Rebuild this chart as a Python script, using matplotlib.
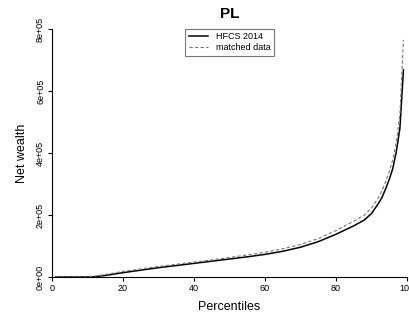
import numpy as np
import matplotlib.pyplot as plt

# percentiles and net wealth
pct = [1, 5, 10, 12, 15, 20, 25, 30, 35, 40, 45, 50, 55, 60, 65, 70, 75,
       80, 85, 88, 90, 92, 93, 94, 95, 96, 97, 98, 99]
hfcs = [0, 0, 300, 1000, 5000, 14000, 22000, 30000, 37000, 44000, 51000,
        58000, 65000, 73000, 83000, 96000, 114000, 138000, 165000, 184000,
        205000, 238000, 258000, 285000, 315000, 350000, 405000, 480000, 668000]
matched = [0, 0, 800, 2500, 8000, 18000, 26000, 34000, 41000, 48000, 55000,
           63000, 71000, 80000, 91000, 105000, 124000, 150000, 180000, 200000,
           222000, 257000, 280000, 308000, 340000, 378000, 435000, 525000, 765000]

plt.rcParams['font.family'] = ['Liberation Sans', 'DejaVu Sans']

fig = plt.figure(figsize=(4.09, 3.2), dpi=100)
ax = fig.add_axes([52/409, 43/320, 355/409, 248/320])

ax.plot(pct, hfcs, color='black', lw=1.1, label='HFCS 2014')
ax.plot(pct, matched, color='#777777', lw=0.8, ls=(0, (3, 2)), label='matched data')

ax.set_xlim(0, 100)
ax.set_ylim(0, 8e5)
ax.set_xticks([0, 20, 40, 60, 80, 100])
ax.set_yticks([0, 2e5, 4e5, 6e5, 8e5])
ax.set_yticklabels(['0e+00', '2e+05', '4e+05', '6e+05', '8e+05'],
                   rotation=90, va='center')
ax.tick_params(labelsize=6.5, length=3, width=0.8, pad=2)
for s in ['top', 'right']:
    ax.spines[s].set_visible(False)
for s in ['left', 'bottom']:
    ax.spines[s].set_linewidth(0.8)

ax.set_title('PL', fontsize=11, fontweight='bold', pad=8)
ax.set_xlabel('Percentiles', fontsize=9, labelpad=6)
ax.set_ylabel('Net wealth', fontsize=9, labelpad=6)

leg = ax.legend(loc='upper center', bbox_to_anchor=(0.5, 1.02), fontsize=6.5,
                frameon=True, fancybox=False, edgecolor='#555555',
                handlelength=2.2, borderpad=0.4, labelspacing=0.2)
leg.get_frame().set_linewidth(0.8)

fig.savefig('out.png', dpi=100)
